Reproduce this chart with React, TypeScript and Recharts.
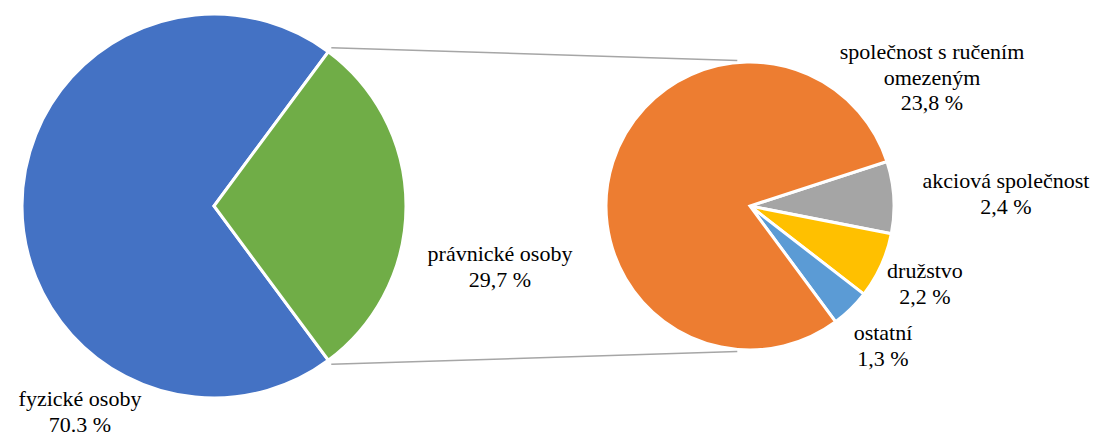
import { PieChart, Pie, Cell } from 'recharts';

document.body.style.margin = '0';

// main pie
const mainCategories = ['fyzické osoby', 'právnické osoby'];
const mainValues = [70.3, 29.7];
const mainLabels = ['70.3 %', '29,7 %'];

// breakdown of "právnické osoby"
const subCategories = ['akciová společnost', 'družstvo', 'ostatní', 'společnost s ručením\nomezeným'];
const subValues = [2.4, 2.2, 1.3, 23.8];
const subLabels = ['2,4 %', '2,2 %', '1,3 %', '23,8 %'];

const mainColors = ['#4472C4', '#70AD47'];
const subColors = ['#A5A5A5', '#FFC000', '#5B9BD5', '#ED7D31'];

const W = 1099;
const H = 437;
const FONT = 'Liberation Serif';
const FS = 22;
const LINE = 25.5;

const C1 = { x: 214, y: 206, r: 192 };
const C2 = { x: 750, y: 206, r: 144 };

// label block offsets from the pie centre (x, first baseline y)
const labelOffsets: Record<string, [number, number]> = {
  'fyzické osoby': [-134, 200],
  'právnické osoby': [286, 55],
  'společnost s ručením\nomezeným': [182, -147],
  'akciová společnost': [256, -18],
  'družstvo': [175, 72],
  'ostatní': [133, 134],
};

const mainData = mainCategories.map((name, i) => ({ name, value: mainValues[i], text: mainLabels[i] }));
const subData = subCategories.map((name, i) => ({ name, value: subValues[i], text: subLabels[i] }));

const smallShare = mainValues[1] / mainValues.reduce((a, b) => a + b, 0);
const mainStart = (smallShare * 360) / 2;

const polar = (c: { x: number; y: number }, r: number, deg: number) => ({
  x: c.x + r * Math.cos((deg * Math.PI) / 180),
  y: c.y - r * Math.sin((deg * Math.PI) / 180),
});

function SliceLabel({ c, name, text }: { c: { x: number; y: number }; name: string; text: string }) {
  const off = labelOffsets[name];
  const x = c.x + off[0];
  const lines = [...name.split('\n'), text];
  return (
    <>
      {lines.map((l, i) => (
        <text key={i} x={x} y={c.y + off[1] + i * LINE} textAnchor="middle" fontFamily={FONT} fontSize={FS}>
          {l}
        </text>
      ))}
    </>
  );
}

export default function App() {
  const a1 = polar(C1, C1.r + 5, mainStart);
  const b1 = polar(C1, C1.r + 5, -mainStart);
  const a2 = polar(C2, C2.r + 2, 95);
  const b2 = polar(C2, C2.r + 2, -95);
  return (
    <div style={{ position: 'relative', width: W, height: H, background: '#fff' }}>
      <div style={{ position: 'absolute', left: 0, top: 0 }}>
        <PieChart width={W} height={H} margin={{ top: 0, right: 0, bottom: 0, left: 0 }}>
          <Pie
            data={mainData}
            dataKey="value"
            nameKey="name"
            cx={C1.x}
            cy={C1.y}
            outerRadius={C1.r}
            startAngle={mainStart}
            endAngle={mainStart + 360}
            stroke="#fff"
            strokeWidth={3}
            isAnimationActive={false}
          >
            {mainData.map((d, i) => (
              <Cell key={d.name} fill={mainColors[i]} />
            ))}
          </Pie>
          <Pie
            data={subData}
            dataKey="value"
            nameKey="name"
            cx={C2.x}
            cy={C2.y}
            outerRadius={C2.r}
            startAngle={18}
            endAngle={18 - 360}
            stroke="#fff"
            strokeWidth={3}
            isAnimationActive={false}
          >
            {subData.map((d, i) => (
              <Cell key={d.name} fill={subColors[i]} />
            ))}
          </Pie>
        </PieChart>
      </div>
      <svg width={W} height={H} style={{ position: 'absolute', left: 0, top: 0 }}>
        <line x1={a1.x} y1={a1.y} x2={a2.x} y2={a2.y} stroke="#A6A6A6" strokeWidth={1.5} />
        <line x1={b1.x} y1={b1.y} x2={b2.x} y2={b2.y} stroke="#A6A6A6" strokeWidth={1.5} />
        {mainData.map((d) => (
          <SliceLabel key={d.name} c={C1} name={d.name} text={d.text} />
        ))}
        {subData.map((d) => (
          <SliceLabel key={d.name} c={C2} name={d.name} text={d.text} />
        ))}
      </svg>
    </div>
  );
}
